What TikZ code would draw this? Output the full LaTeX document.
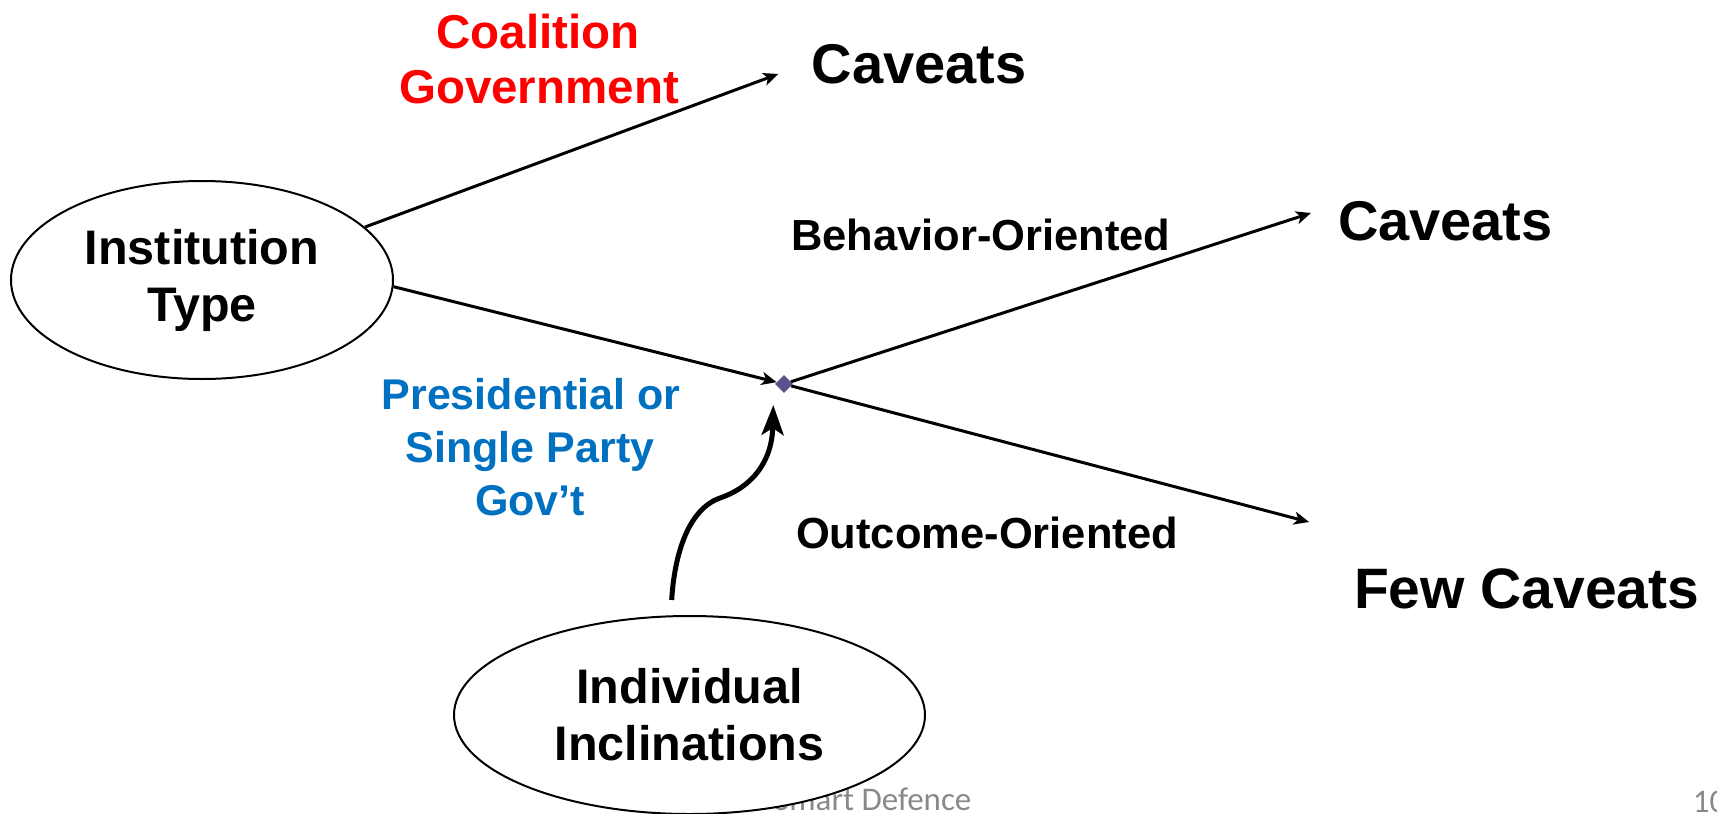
\documentclass[tikz,border=0pt]{standalone}
\usepackage{fontspec}
\setmainfont{Liberation Sans}
\newfontfamily\footfont{Carlito}
\usetikzlibrary{arrows.meta,shapes.geometric}
\definecolor{redtxt}{RGB}{255,0,0}
\definecolor{bluetxt}{RGB}{0,112,192}
\definecolor{dotcol}{RGB}{95,78,140}
\definecolor{footgray}{RGB}{137,137,137}
\tikzset{
  lbl/.style={inner sep=0pt, outer sep=0pt, font=\bfseries},
  oval/.style={draw, ellipse, line width=2pt, fill=white, inner sep=0pt, align=center},
  arr/.style={-{Stealth[length=15pt,width=13pt,inset=4pt]}, line width=3pt},
  bigarr/.style={-{Stealth[length=30pt,width=22pt,inset=7pt]}, line width=5pt},
  foot/.style={inner sep=0pt, anchor=base west, text=footgray, font=\footfont\fontsize{33}{38}\selectfont}
}
\begin{document}
\begin{tikzpicture}[x=1pt,y=-1pt]
\useasboundingbox (0,0) rectangle (1717,814);
\fill[white] (0,0) rectangle (1717,814);
% footer
\node[foot] (ftxt) at (774,810) {Smart Defence};
\node[foot] (fnum) at (1692.7,812) {10};
% ellipses
\node[oval, minimum width=382pt, minimum height=198pt, font=\fontsize{48.5}{57}\selectfont\bfseries] (inst) at (202,280) {Institution\\Type};
\node[oval, minimum width=471pt, minimum height=198pt, font=\fontsize{48.5}{57}\selectfont\bfseries] (ind) at (689.5,715) {Individual\\Inclinations};
% labels
\node[lbl, anchor=base, text=redtxt, font=\fontsize{47.5}{55}\selectfont\bfseries] (coal1) at (538,48.3) {Coalition};
\node[lbl, anchor=base, text=redtxt, font=\fontsize{47.5}{55}\selectfont\bfseries] (coal2) at (539,103.3) {Government};
\node[lbl, anchor=base west, font=\fontsize{56}{60}\selectfont\bfseries] (cav1) at (811.7,83) {Caveats};
\node[lbl, anchor=base west, font=\fontsize{43.5}{50}\selectfont\bfseries] (beh) at (791,250) {Behavior-Oriented};
\node[lbl, anchor=base west, font=\fontsize{56}{60}\selectfont\bfseries] (cav2) at (1338,240) {Caveats};
\node[lbl, anchor=base west, font=\fontsize{43.5}{50}\selectfont\bfseries] (outc) at (796,548) {Outcome-Oriented};
\node[lbl, anchor=base west, font=\fontsize{57}{62}\selectfont\bfseries] (few) at (1354,608) {Few Caveats};
\node[lbl, anchor=base, text=bluetxt, font=\fontsize{43}{53}\selectfont\bfseries] (pres1) at (531,409) {Presidential or};
\node[lbl, anchor=base, text=bluetxt, font=\fontsize{43}{53}\selectfont\bfseries] (pres2) at (530,462) {Single Party};
\node[lbl, anchor=base, text=bluetxt, font=\fontsize{43}{53}\selectfont\bfseries] (pres3) at (530,515) {Gov’t};
% junction
\node[diamond, fill=dotcol, inner sep=0pt, minimum size=18pt] (dia) at (784,384) {};
% free ends
\coordinate (t1) at (778.3,74);
\coordinate (t2) at (1311,213);
\coordinate (t3) at (1309,522);
\coordinate (cs) at (671.7,600);
\coordinate (ce) at (773.3,405);
% connectors
\draw[arr] (inst.18.5) -- (t1);
\draw[arr] (inst.-2) -- (dia);
\draw[arr] (dia) -- (t2);
\draw[arr] (dia) -- (t3);
\draw[bigarr] (cs) .. controls (674,560) and (686,510) .. (720,498) .. controls (752,487) and (772,462) .. (ce);
\end{tikzpicture}
\end{document}
